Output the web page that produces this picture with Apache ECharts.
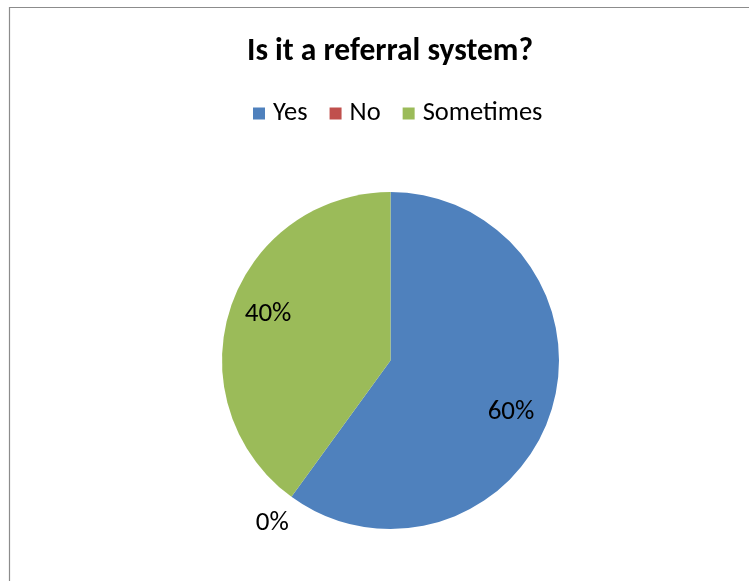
<!DOCTYPE html>
<html>
<head>
<meta charset="utf-8">
<title>Is it a referral system?</title>
<script src="https://cdn.jsdelivr.net/npm/echarts@6/dist/echarts.min.js"></script>
<style>
  html, body { margin: 0; padding: 0; background: #fff; overflow: hidden; }
  #chart { width: 780px; height: 581px; }
</style>
</head>
<body>
<div id="chart"></div>
<script>
// Survey answers and their shares (percent)
const categories = ['Yes', 'No', 'Sometimes'];
const shares = [60, 0, 40];
const colors = ['#4F81BD', '#C0504D', '#9BBB59'];

const FONT = 'Carlito, Lato, sans-serif';
const CENTER = [390.5, 360.5];
const R = 168.5;

const pieData = categories.map((name, i) => ({ name, value: shares[i] }));

// Transparent ring used only to carry the percentage labels at a chosen radius
function labelRing(center, radius, startAngle, shown) {
  return {
    type: 'pie',
    silent: true,
    center: center,
    radius: [0, radius],
    startAngle: startAngle,
    z: 3,
    itemStyle: { color: 'rgba(0,0,0,0)', borderWidth: 0 },
    emphasis: { disabled: true },
    labelLine: { show: false },
    data: pieData.map((d) => ({
      name: d.name,
      value: d.value,
      label: {
        show: shown.includes(d.name),
        position: 'inside',
        formatter: '{d}%',
        color: '#000',
        fontFamily: FONT,
        fontSize: 27
      }
    }))
  };
}

const chart = echarts.init(document.getElementById('chart'), null, { renderer: 'canvas' });
chart.setOption({
  animation: false,
  color: colors,
  title: {
    text: 'Is it a referral system?',
    left: 'center',
    top: 31,
    textStyle: { fontFamily: FONT, fontSize: 31.5, fontWeight: 'bold', color: '#000' }
  },
  legend: {
    data: categories,
    left: 248,
    top: 95,
    icon: 'rect',
    itemWidth: 12,
    itemHeight: 12,
    itemGap: 22,
    textStyle: { fontFamily: FONT, fontSize: 26.5, color: '#000', padding: [0, 0, 0, 3] }
  },
  graphic: [{
    type: 'rect',
    silent: true,
    shape: { x: 9.5, y: 7.5, width: 900, height: 700 },
    style: { fill: 'none', stroke: '#8c8c8c', lineWidth: 1.2 }
  }],
  series: [
    {
      type: 'pie',
      center: CENTER,
      radius: [0, R],
      startAngle: 90,
      z: 2,
      label: { show: false },
      labelLine: { show: false },
      emphasis: { disabled: true },
      itemStyle: { borderWidth: 0 },
      data: pieData
    },
    labelRing([389.5, 363.5], 256, 86, ['Yes', 'Sometimes']),
    labelRing(CENTER, 396, 90, ['No'])
  ]
});
</script>
</body>
</html>
